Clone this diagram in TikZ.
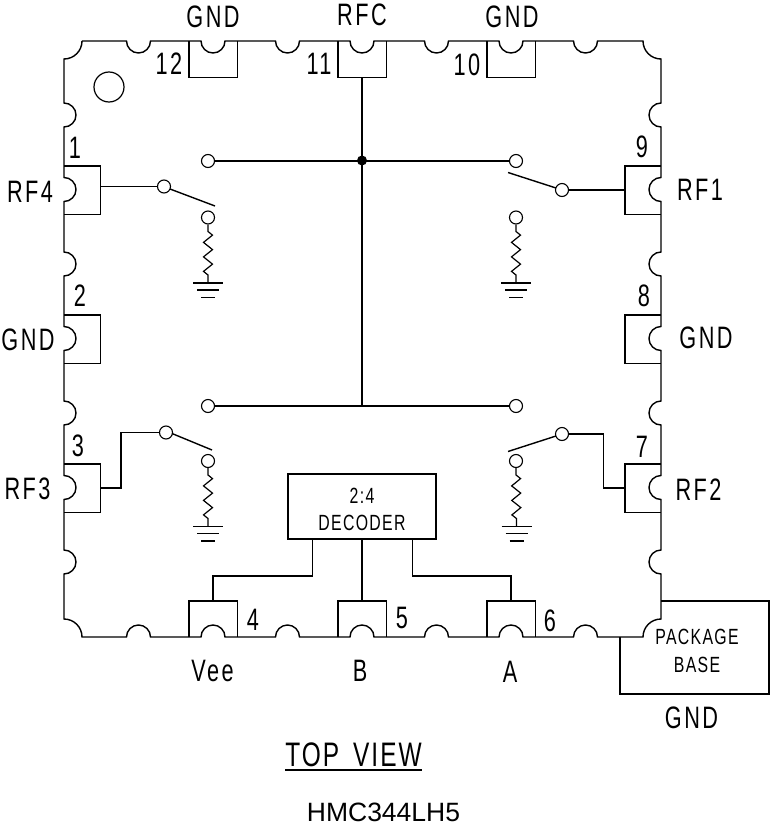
\documentclass[tikz,border=0pt]{standalone}
\usepackage{fontspec}
\usepackage{tikz}
\usetikzlibrary{decorations.pathmorphing}
\setmainfont{Liberation Sans}
\newfontfamily\cadfont[FakeStretch=0.70,LetterSpace=8]{Liberation Sans}
\newfontfamily\cadsmall[FakeStretch=0.72,LetterSpace=6]{Liberation Sans}

\tikzset{
    wire/.style={line width=1.4pt, line join=miter},
    padbox/.style={rectangle, inner sep=0pt},
    hpad/.style={padbox, minimum width=36pt, minimum height=48pt},
    vpad/.style={padbox, minimum width=48pt, minimum height=36pt},
    term/.style={circle, draw, line width=1.1pt, fill=white, minimum size=13pt, inner sep=0pt},
    pinlabel/.style={font=\cadfont\fontsize{31}{33}\selectfont, inner sep=0pt},
    smalllabel/.style={font=\cadsmall\fontsize{22}{27.5}\selectfont, inner sep=0pt, align=center}
}

\begin{document}
\begin{tikzpicture}[x=1pt, y=-1pt]
    \useasboundingbox (0, 0) rectangle (771, 827);

    % Package outline
    \draw[wire] (82, 41)
        \foreach \x in {138.5, 213, 287.5, 362, 436.5, 511, 585.5} {
            -- (\x-12, 41) arc[start angle=180, end angle=360, x radius=12, y radius=-12]
        } -- (643, 41) arc[start angle=180, end angle=270, x radius=18, y radius=-18]
        \foreach \y in {115, 189.5, 264, 338.5, 413, 487.5, 562} {
            -- (661, \y-12) arc[start angle=90, end angle=270, x radius=12, y radius=-12]
        } -- (661, 619) arc[start angle=90, end angle=180, x radius=18, y radius=-18]
        \foreach \x in {585.5, 511, 436.5, 362, 287.5, 213, 138.5} {
            -- (\x+12, 637) arc[start angle=0, end angle=180, x radius=12, y radius=-12]
        } -- (82, 637) arc[start angle=0, end angle=90, x radius=18, y radius=-18]
        \foreach \y in {562, 487.5, 413, 338.5, 264, 189.5, 115} {
            -- (64, \y+12) arc[start angle=270, end angle=450, x radius=12, y radius=-12]
        } -- (64, 59) arc[start angle=270, end angle=360, x radius=18, y radius=-18];
    \node[circle, draw, line width=1.2pt, minimum size=30pt, inner sep=0pt] (dot) at (109, 87) {};

    % Pads
    \foreach \n/\y in {p1/190, p2/339, p3/488} {
        \node[hpad] (\n) at (82, \y) {};
        \draw[wire] (\n.north west) -- (\n.north east) -- (\n.south east) -- (\n.south west);
    }
    \foreach \n/\y in {p9/190, p8/339, p7/488} {
        \node[hpad] (\n) at (643, \y) {};
        \draw[wire] (\n.north east) -- (\n.north west) -- (\n.south west) -- (\n.south east);
    }
    \foreach \n/\x in {p12/213, p11/362, p10/511} {
        \node[vpad] (\n) at (\x, 59) {};
        \draw[wire] (\n.north west) -- (\n.south west) -- (\n.south east) -- (\n.north east);
    }
    \foreach \n/\x in {p4/213, p5/362, p6/511} {
        \node[vpad] (\n) at (\x, 619) {};
        \draw[wire] (\n.south west) -- (\n.north west) -- (\n.north east) -- (\n.south east);
    }

    % Terminals
    \node[term] (t1a) at (208, 161) {};
    \node[term] (t1b) at (164, 186.5) {};
    \node[term] (t1c) at (208, 217.5) {};
    \node[term] (t9a) at (516, 161) {};
    \node[term] (t9b) at (562, 190) {};
    \node[term] (t9c) at (516, 217.5) {};
    \node[term] (t3a) at (208, 406) {};
    \node[term] (t3b) at (166, 432.5) {};
    \node[term] (t3c) at (208, 461) {};
    \node[term] (t7a) at (516, 406) {};
    \node[term] (t7b) at (562, 434) {};
    \node[term] (t7c) at (516, 461) {};

    % Resistors and grounds
    \foreach \n/\x/\y in {t1c/208/283, t9c/516/283, t3c/208/526.5, t7c/516.5/526.5} {
        \coordinate (g) at (\x, \y);
        \draw[wire, line width=1.2pt, decorate, decoration={zigzag, segment length=14.5pt, amplitude=4.5pt, pre length=7pt, post length=5pt}] (\n) ++(0, 7) -- (g);
        \draw[wire] (\x-15, \y) -- (\x+15, \y);
        \draw[wire] (\x-11, \y+7) -- (\x+11, \y+7);
        \draw[wire] (\x-7, \y+14.5) -- (\x+7, \y+14.5);
    }

    % Switch arms
    \draw[wire] (t1b) ++(6, 2.5) -- (215, 206);
    \draw[wire] (t9b) ++(-6, -2) -- (508, 172.5);
    \draw[wire] (t3b) ++(6, 1) -- (212, 450);
    \draw[wire] (t7b) ++(-6, 2) -- (508, 451.5);

    % Common lines
    \node[circle, fill, minimum size=10pt, inner sep=0pt] (jn) at (362, 160.5) {};
    \coordinate (jb) at (362, 406);
    \draw[wire] (t1a) -- (t9a);
    \draw[wire] (t3a) -- (t7a);
    \draw[wire] (p11.south) -- (jb);

    % RF feeds
    \draw[wire] (p1.east |- t1b) -- (t1b);
    \draw[wire] (p9.west |- t9b) -- (t9b);
    \draw[wire] (p3.east) -| (121, 432.5) -- (t3b);
    \draw[wire] (p7.west) -| (603.5, 434) -- (t7b);

    % Decoder
    \node[draw, line width=1.4pt, minimum width=148pt, minimum height=65pt, inner sep=0pt] (dec) at (362, 506.5) {};
    \node[smalllabel] (dectext) at (362, 509.5) {2:4\\DECODER};
    \draw[wire] (dec.south) -- (p5.north);
    \draw[wire] (dec.south west) ++(25, 0) |- (213, 576) -- (p4.north);
    \draw[wire] (dec.south east) ++(-24, 0) |- (511, 576) -- (p6.north);

    % Package base
    \coordinate (ba) at (620, 637);
    \coordinate (bb) at (661, 601);
    \draw[wire] (ba) -- (620, 694) -- (769, 694) -- (769, 601) -- (bb);
    \node[smalllabel] (base) at (697, 651) {PACKAGE\\BASE};

    % Labels
    \node[pinlabel] (l12) at (213, 17) {GND};
    \node[pinlabel] (l11) at (362, 15) {RFC};
    \node[pinlabel] (l10) at (512, 17) {GND};
    \node[pinlabel] (n12) at (169, 64) {12};
    \node[pinlabel] (n11) at (319, 64) {11};
    \node[pinlabel] (n10) at (467, 65) {10};
    \node[pinlabel] (n1) at (75, 148) {1};
    \node[pinlabel] (n2) at (80, 296) {2};
    \node[pinlabel] (n3) at (78, 446) {3};
    \node[pinlabel] (n9) at (642, 147) {9};
    \node[pinlabel] (n8) at (644, 296) {8};
    \node[pinlabel] (n7) at (642, 447) {7};
    \node[pinlabel] (n4) at (253, 620) {4};
    \node[pinlabel] (n5) at (402, 618) {5};
    \node[pinlabel] (n6) at (550, 621) {6};
    \node[pinlabel] (l1) at (30, 192) {RF4};
    \node[pinlabel] (l2) at (28, 340) {GND};
    \node[pinlabel] (l3) at (27.5, 489) {RF3};
    \node[pinlabel] (l9) at (700, 190) {RF1};
    \node[pinlabel] (l8) at (706, 338) {GND};
    \node[pinlabel] (l7) at (698.5, 490) {RF2};
    \node[pinlabel] (l4) at (212.5, 671) {Vee};
    \node[pinlabel] (l5) at (360, 671) {B};
    \node[pinlabel] (l6) at (510, 672) {A};
    \node[pinlabel] (lb) at (691.5, 718) {GND};
    \node[font=\cadsmall\fontsize{34}{36}\selectfont, inner sep=0pt] (view) at (353.5, 755) {TOP\hspace{5pt} VIEW};
    \draw[wire] (285, 770) -- (422, 770);
    \node[font=\fontsize{26.5}{28}\selectfont, inner sep=0pt] (part) at (383.5, 812) {HMC344LH5};
\end{tikzpicture}
\end{document}
